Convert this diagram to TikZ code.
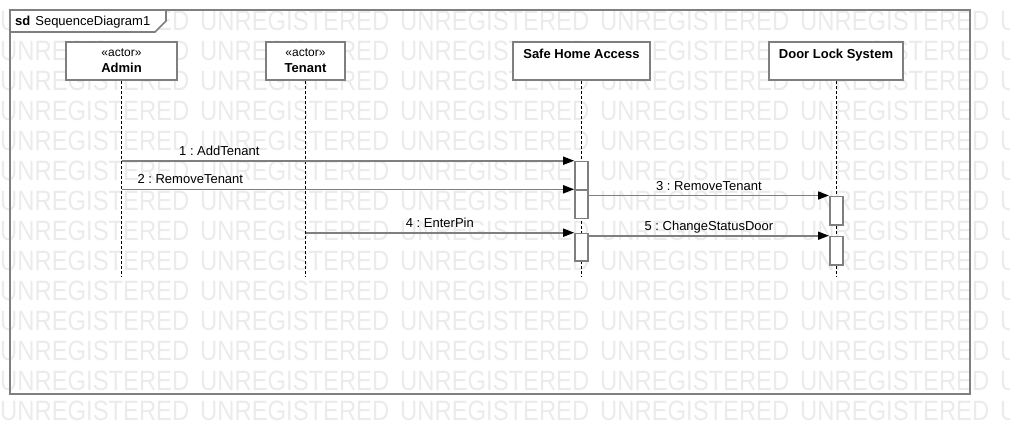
\documentclass[tikz,border=0pt]{standalone}
\usepackage{fontspec}
\setmainfont{Liberation Sans}
\newfontfamily\wmfont[FakeStretch=0.85]{Liberation Sans}
\usetikzlibrary{arrows.meta}
\definecolor{linegray}{HTML}{7F7F7F}
\definecolor{wmgray}{HTML}{EBEBEB}
\frenchspacing

\begin{document}
\begin{tikzpicture}[x=1pt, y=-1pt, >={Triangle[length=11pt,width=8pt,color=black]},
	every node/.style={font=\fontsize{13}{16}\selectfont},
	wm/.style={font=\wmfont\fontsize{28}{28}\selectfont, text=wmgray, anchor=west, inner sep=0pt},
	objbox/.style={draw=linegray, line width=1.6pt, fill=white, minimum height=38pt, inner sep=0pt, align=center},
	actbox/.style={draw=linegray, line width=1.6pt, fill=white, minimum width=13pt, anchor=north, inner sep=0pt},
	lifeline/.style={dash pattern=on 3pt off 2pt, line width=0.9pt},
	msg/.style={->, draw=linegray, line width=1.6pt},
	lbl/.style={anchor=base, yshift=5.5pt, inner sep=0pt}]
			\useasboundingbox (0,0) rectangle (1010,434);
			\foreach \r in {0,...,13} % watermark
			\foreach \c in {0,...,5}
			\node[wm] (wm-\r-\c) at (200*\c, 21+30*\r) {UNREGISTERED};
			\draw[linegray, line width=1.6pt] (10,10) rectangle (970,394);
			\draw[linegray, line width=1.6pt, fill=white] (10,10) -- (166,10) -- (166,21) -- (155,32) -- (10,32) -- cycle;
			\node[anchor=base west, inner sep=0pt] (tag) at (15,25.5) {\textbf{sd}\hspace{5pt}SequenceDiagram1};
			\node[objbox, minimum width=111pt] (admin) at (121.5,61) {{\fontsize{12}{14}\selectfont «actor»}\\\textbf{Admin}};
			\node[objbox, minimum width=79pt] (tenant) at (305.5,61) {{\fontsize{12}{14}\selectfont «actor»}\\\textbf{Tenant}};
			\node[objbox, minimum width=137pt, text height=16.7pt, text depth=21.3pt] (sha) at (581.5,61) {\textbf{Safe Home Access}};
			\node[objbox, minimum width=134pt, text height=16.7pt, text depth=21.3pt] (dls) at (836,61) {\textbf{Door Lock System}};
			\path (admin.south) ++(0,196) coordinate (admin-end);
			\path (tenant.south) ++(0,196) coordinate (tenant-end);
			\path (sha.south) ++(0,196) coordinate (sha-end);
			\path (dls.south) ++(0,196) coordinate (dls-end);
			\draw[lifeline] (admin.south) -- (admin-end);
			\draw[lifeline] (tenant.south) -- (tenant-end);
			\draw[lifeline] (sha.south) -- (sha-end);
			\draw[lifeline] (dls.south) -- (dls-end);
			\node[actbox, minimum height=28.6pt] (act1) at (581.5,160.7) {};
			\node[actbox, minimum height=28.2pt] (act2) at (581.5,189.3) {};
			\node[actbox, minimum height=28.5pt] (act3) at (836.3,195.5) {};
			\node[actbox, minimum height=27.5pt] (act4) at (581.5,232.7) {};
			\node[actbox, minimum height=28.3pt] (act5) at (836.3,235.7) {};
			\draw[msg] (admin.south |- act1.north west) -- node[lbl, pos=.216] (m1) {1 : AddTenant} (act1.north west);
			\draw[msg] (admin.south |- act2.north west) -- node[lbl, pos=.152] (m2) {2 : RemoveTenant} (act2.north west);
			\draw[msg] (act2.east |- act3.north west) -- node[lbl] (m3) {3 : RemoveTenant} (act3.north west);
			\draw[msg] (tenant.south |- act4.north west) -- node[lbl] (m4) {4 : EnterPin} (act4.north west);
			\draw[msg] (act4.east |- act5.north west) -- node[lbl] (m5) {5 : ChangeStatusDoor} (act5.north west);
		\end{tikzpicture}
\end{document}
